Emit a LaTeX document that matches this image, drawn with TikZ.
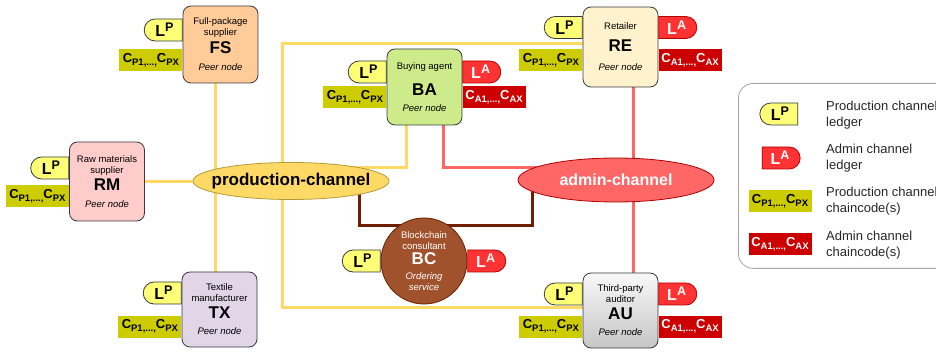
\documentclass[tikz,border=0pt]{standalone}
\usepackage{fontspec}
\setmainfont{Liberation Sans}
\usetikzlibrary{shapes.geometric, shapes.misc, backgrounds}

\definecolor{peerline}{HTML}{36393D}
\definecolor{fsfill}{HTML}{FFCC99}
\definecolor{bafill}{HTML}{CDEB8B}
\definecolor{refill}{HTML}{FFF2CC}
\definecolor{rmfill}{HTML}{FFCCCC}
\definecolor{txfill}{HTML}{E1D5E7}
\definecolor{bcfill}{HTML}{A0522D}
\definecolor{bcline}{HTML}{6D1F00}
\definecolor{lpfill}{HTML}{FFFF77}
\definecolor{lafill}{HTML}{FF3333}
\definecolor{laline}{HTML}{B20000}
\definecolor{ccpfill}{HTML}{CCCC00}
\definecolor{ccafill}{HTML}{CC0000}
\definecolor{prodfill}{HTML}{FFD966}
\definecolor{prodline}{HTML}{B39B3A}
\definecolor{adminfill}{HTML}{FF6666}
\definecolor{plinecol}{HTML}{FFD966}
\definecolor{alinecol}{HTML}{FF6666}

\newcommand{\peerid}[1]{{\fontsize{17}{17}\selectfont\bfseries #1}}
\newcommand{\ledgerP}{L\raisebox{5pt}{\fontsize{12.5}{12.5}\selectfont P}}
\newcommand{\ledgerA}{L\raisebox{5pt}{\fontsize{12.5}{12.5}\selectfont A}}
\newcommand{\codeP}{C\raisebox{-3pt}{\fontsize{9.5}{9.5}\selectfont P1,...,}C\raisebox{-3pt}{\fontsize{9.5}{9.5}\selectfont PX}}
\newcommand{\codeA}{C\raisebox{-3pt}{\fontsize{9.5}{9.5}\selectfont A1,...,}C\raisebox{-3pt}{\fontsize{9.5}{9.5}\selectfont AX}}

\tikzstyle{peer} = [rectangle, rounded corners=8pt, minimum width=75pt, minimum height=77pt, align=center, draw=peerline, line width=0.8pt, inner sep=1pt, font=\fontsize{9.5}{11}\selectfont]
\tikzstyle{ledgerp} = [rounded rectangle, rounded rectangle east arc=none, draw=peerline, fill=lpfill, line width=0.8pt, minimum width=38pt, minimum height=22pt, inner sep=0pt, font=\fontsize{16}{16}\selectfont\bfseries]
\tikzstyle{ledgera} = [rounded rectangle, rounded rectangle west arc=none, draw=laline, fill=lafill, text=white, line width=0.8pt, minimum width=38pt, minimum height=22pt, inner sep=0pt, font=\fontsize{16}{16}\selectfont\bfseries]
\tikzstyle{codep} = [rectangle, fill=ccpfill, minimum width=63pt, minimum height=22pt, inner sep=0pt, font=\fontsize{13}{13}\selectfont\bfseries]
\tikzstyle{codea} = [codep, fill=ccafill, text=white]
\tikzstyle{channel} = [ellipse, line width=0.8pt, inner sep=0pt, minimum width=196pt, font=\fontsize{17}{17}\selectfont\bfseries]
\tikzstyle{pline} = [draw=plinecol, line width=3pt]
\tikzstyle{aline} = [draw=alinecol, line width=3pt]
\tikzstyle{bline} = [draw=bcline, line width=3pt]

\begin{document}
\begin{tikzpicture}[x=1pt, y=-1pt]
        \useasboundingbox (0,0) rectangle (936,352);
        \clip (0,0) rectangle (936,352);

        % peer nodes
        \node[peer, fill=fsfill] (fs) at (220.5,44.5) {Full-package\\supplier\\[3pt]\peerid{FS}\\[6pt]\textit{Peer node}};
        \node[peer, fill=bafill, minimum height=76pt] (ba) at (424.5,87) {Buying agent\\[12pt]\peerid{BA}\\[5pt]\textit{Peer node}};
        \node[peer, fill=refill, minimum height=80pt] (re) at (620.5,47) {Retailer\\[9pt]\peerid{RE}\\[8pt]\textit{Peer node}};
        \node[peer, fill=rmfill, minimum height=79pt] (rm) at (107,181.5) {Raw materials\\supplier\\[3pt]\peerid{RM}\\[6pt]\textit{Peer node}};
        \node[peer, fill=txfill, minimum height=75pt] (tx) at (219.5,309.5) {Textile\\manufacturer\\[4pt]\peerid{TX}\\[5pt]\textit{Peer node}};
        \node[peer, top color=gray!5, bottom color=gray!45, minimum height=75pt] (au) at (620.5,310.5) {Third-party\\auditor\\[4pt]\peerid{AU}\\[5pt]\textit{Peer node}};
        \node[circle, draw=bcline, fill=bcfill, line width=0.8pt, minimum size=86pt, inner sep=0pt, text=white, align=center, font=\fontsize{9.5}{11}\selectfont] (bc) at (424,261) {Blockchain\\consultant\\[2pt]\peerid{BC}\\[4pt]\textit{Ordering}\\\textit{service}};

        % channels
        \node[channel, draw=prodline, fill=prodfill, minimum height=37pt] (prod) at (291,181) {\makebox[0pt]{production-channel}};
        \node[channel, draw=laline, fill=adminfill, text=white, minimum height=44pt, font=\fontsize{16}{16}\selectfont\bfseries] (admin) at (616,180) {\makebox[0pt]{admin-channel}};

        % ledgers and chaincodes
        \node[ledgerp, anchor=east] (fslp) at (fs.west |- 0,30) {\ledgerP};
        \node[codep, anchor=east] (fscp) at (fs.west |- 0,60) {\codeP};
        \node[ledgerp, anchor=east] (balp) at (ba.west |- 0,72) {\ledgerP};
        \node[codep, anchor=east] (bacp) at (ba.west |- 0,97) {\codeP};
        \node[ledgera, anchor=west] (bala) at (ba.east |- 0,72) {\ledgerA};
        \node[codea, anchor=west] (baca) at (ba.east |- 0,97) {\codeA};
        \node[ledgerp, anchor=east] (relp) at (re.west |- 0,27.5) {\ledgerP};
        \node[codep, anchor=east] (recp) at (re.west |- 0,60) {\codeP};
        \node[ledgera, anchor=west] (rela) at (re.east |- 0,27.5) {\ledgerA};
        \node[codea, anchor=west] (reca) at (re.east |- 0,60) {\codeA};
        \node[ledgerp, anchor=east] (rmlp) at (rm.west |- 0,168) {\ledgerP};
        \node[codep, anchor=east] (rmcp) at (rm.west |- 0,196) {\codeP};
        \node[ledgerp, anchor=east] (txlp) at (tx.west |- 0,293) {\ledgerP};
        \node[codep, anchor=east] (txcp) at (tx.west |- 0,326.5) {\codeP};
        \node[ledgerp, anchor=east] (aulp) at (au.west |- 0,294) {\ledgerP};
        \node[codep, anchor=east] (aucp) at (au.west |- 0,326.5) {\codeP};
        \node[ledgera, anchor=west] (aula) at (au.east |- 0,294) {\ledgerA};
        \node[codea, anchor=west] (auca) at (au.east |- 0,326.5) {\codeA};
        \node[ledgerp, anchor=east] (bclp) at (bc.west) {\ledgerP};
        \node[ledgera, anchor=west] (bcla) at (bc.east) {\ledgerA};

        % connections
        \begin{scope}[on background layer]
                \draw[pline] ([xshift=-5pt]fs.south) -- ([xshift=-5pt]fs.south |- prod.center);
                \draw[pline] ([xshift=-4.5pt]tx.north) -- ([xshift=-4.5pt]tx.north |- prod.center);
                \draw[pline] (rm) -- (prod);
                \draw[pline] ([yshift=3pt]re.west) -| ([xshift=-9pt]prod.center);
                \draw[pline] ([yshift=3pt]au.west) -| ([xshift=-9pt]prod.center);
                \draw[pline] ([xshift=-18.5pt]ba.south) |- ([yshift=13pt]prod.center);
                \draw[aline] ([xshift=18.5pt]ba.south) |- ([yshift=12pt]admin.center);
                \draw[aline] ([xshift=12.5pt]re.south) -- ([xshift=12.5pt]re.south |- admin.center);
                \draw[aline] ([xshift=12.5pt]au.north) -- ([xshift=12.5pt]au.north |- admin.center);
                \draw[bline] ([xshift=68pt]prod.center) |- ([yshift=-8pt]bc.north) -| ([xshift=-84pt]admin.center);
        \end{scope}

        % legend
        \node[draw=gray!70, line width=0.8pt, rounded corners=15pt, anchor=north west, minimum width=215pt, minimum height=185pt] (legend) at (738,83) {};
        \node[ledgerp] (keylp) at (780,114) {\ledgerP};
        \node[ledgera] (keyla) at (780,158) {\ledgerA};
        \node[codep] (keycp) at (780,201) {\codeP};
        \node[codea] (keyca) at (780,244.5) {\codeA};
        \node[anchor=west, align=left, text=black!85, font=\fontsize{13}{16}\selectfont, inner sep=0pt] (keylptext) at (826,115) {Production channel\\ledger};
        \node[anchor=west, align=left, text=black!85, font=\fontsize{13}{16}\selectfont, inner sep=0pt] (keylatext) at (826,158) {Admin channel\\ledger};
        \node[anchor=west, align=left, text=black!85, font=\fontsize{13}{16}\selectfont, inner sep=0pt] (keycptext) at (826,201.5) {Production channel\\chaincode(s)};
        \node[anchor=west, align=left, text=black!85, font=\fontsize{13}{16}\selectfont, inner sep=0pt] (keycatext) at (826,245) {Admin channel\\chaincode(s)};
\end{tikzpicture}
\end{document}
